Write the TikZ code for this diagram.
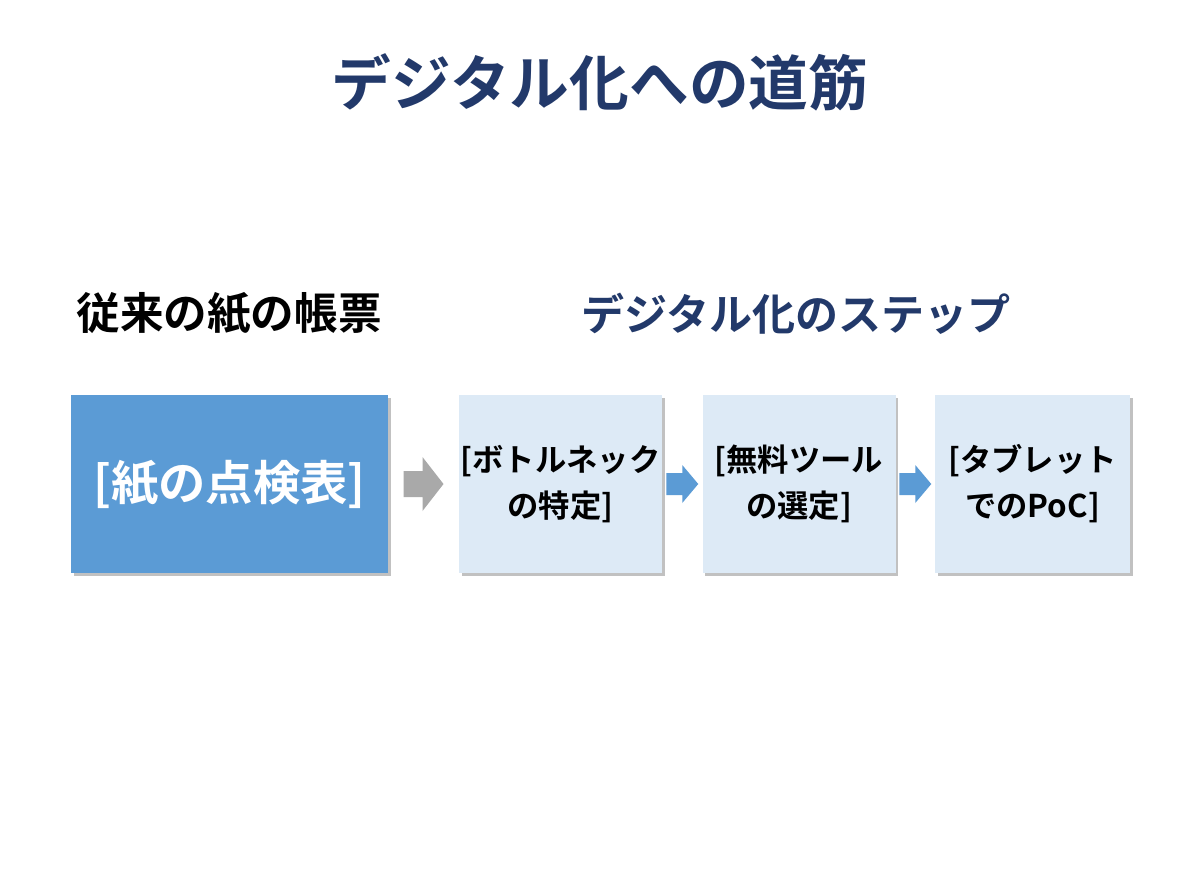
\documentclass[tikz,border=0pt]{standalone}
\usepackage{fontspec}
\usetikzlibrary{shadows,calc}
\newfontfamily\jp[BoldFont={Noto Sans CJK JP Bold}]{Noto Sans CJK JP}
\definecolor{navy}{HTML}{22396A}
\definecolor{bigblue}{HTML}{5B9BD5}
\definecolor{lightblue}{HTML}{DDEAF6}
\definecolor{arrgray}{HTML}{A9A9A9}
\definecolor{arrblue}{HTML}{5B9BD5}
\begin{document}
\begin{tikzpicture}[x=0.75pt,y=-0.75pt,
  every node/.style={font=\jp\bfseries},
  boxshadow/.style={drop shadow={shadow xshift=2pt,shadow yshift=-2pt,opacity=0.4,fill=black!60}},
  bigbox/.style={fill=bigblue,boxshadow,inner sep=0pt,text=white},
  stepbox/.style={fill=lightblue,boxshadow,inner sep=0pt,text=black,align=center},
]
\useasboundingbox[fill=white] (0,0) rectangle (1200,896);
% title
\node[text=navy,font=\jp\bfseries\fontsize{44.8}{50}\selectfont] (title) at (600,82) {デジタル化への道筋};
% subtitles
\node[text=black,font=\jp\bfseries\fontsize{32.7}{36}\selectfont] (left) at (229,314) {従来の紙の帳票};
\node[text=navy,font=\jp\bfseries\fontsize{32.3}{36}\selectfont] (right) at (796,314) {デジタル化のステップ};
% boxes
\node[bigbox,minimum width=317*0.75pt,minimum height=178*0.75pt,font=\jp\bfseries\fontsize{35.5}{40}\selectfont] (paper) at (229.5,484) {[紙の点検表]};
\node[stepbox,minimum width=203*0.75pt,minimum height=178*0.75pt,font=\jp\bfseries\fontsize{23.5}{34.5}\selectfont] (s1) at (560.5,484) {[ボトルネック\\の特定]};
\node[stepbox,minimum width=193*0.75pt,minimum height=178*0.75pt,font=\jp\bfseries\fontsize{23.5}{34.5}\selectfont] (s2) at (799,484) {[無料ツール\\の選定]};
\node[stepbox,minimum width=195*0.75pt,minimum height=178*0.75pt,font=\jp\bfseries\fontsize{23.5}{34.5}\selectfont] (s3) at (1032.5,484) {[タブレット\\でのPoC]};
% block arrows
\coordinate (g) at ($(paper.east)!0.5!(s1.west)$);
\fill[arrgray] ($(g)+(-20,-13)$) -- ($(g)+(-1,-13)$) -- ($(g)+(-1,-27)$) -- ($(g)+(20,0)$) -- ($(g)+(-1,27)$) -- ($(g)+(-1,13)$) -- ($(g)+(-20,13)$) -- cycle;
\coordinate (b1) at ($(s1.east)!0.5!(s2.west)$);
\fill[arrblue] ($(b1)+(-16,-11)$) -- ($(b1)+(0,-11)$) -- ($(b1)+(0,-19)$) -- ($(b1)+(16,0)$) -- ($(b1)+(0,19)$) -- ($(b1)+(0,11)$) -- ($(b1)+(-16,11)$) -- cycle;
\coordinate (b2) at ($(s2.east)!0.5!(s3.west)$);
\fill[arrblue] ($(b2)+(-16,-11)$) -- ($(b2)+(0,-11)$) -- ($(b2)+(0,-19)$) -- ($(b2)+(16,0)$) -- ($(b2)+(0,19)$) -- ($(b2)+(0,11)$) -- ($(b2)+(-16,11)$) -- cycle;
\end{tikzpicture}
\end{document}
